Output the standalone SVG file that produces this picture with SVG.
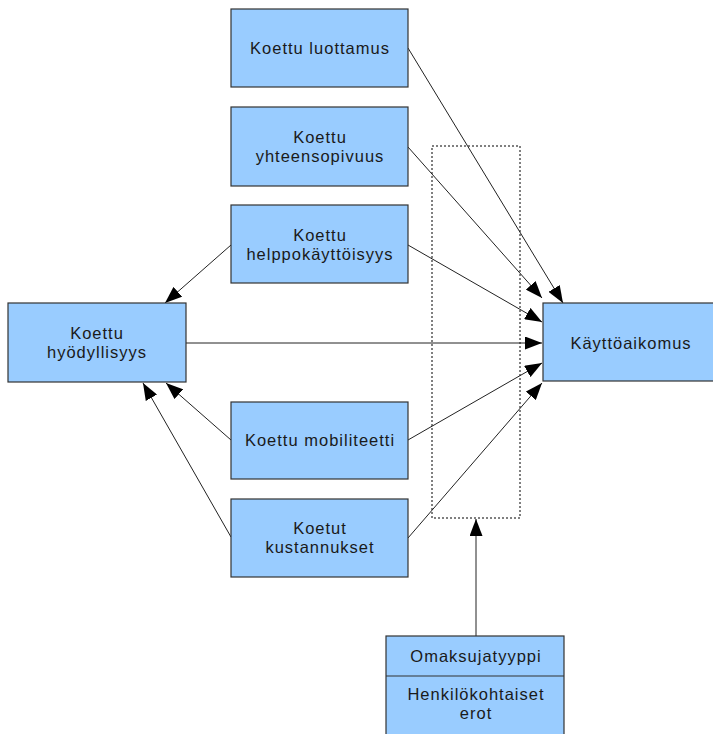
<svg xmlns="http://www.w3.org/2000/svg" width="713" height="734" viewBox="0 0 713 734">
<style>
.box{fill:#99ccff;stroke:#333;stroke-width:1.2}
.t{font-family:"Liberation Sans",Arial,sans-serif;font-size:16.5px;fill:#1a1a1a;text-anchor:middle;letter-spacing:1px}
.c{stroke:#222;stroke-width:1;fill:none;marker-end:url(#ah)}
</style>
<defs>
<marker id="ah" markerUnits="userSpaceOnUse" markerWidth="17" markerHeight="13" refX="17" refY="6.5" orient="auto">
<path d="M0,0 L17,6.5 L0,13 z" fill="#000"/>
</marker>
</defs>
<rect x="432" y="146" width="88" height="372" fill="none" stroke="#000" stroke-width="1" stroke-dasharray="2,2"/>
<g id="connectors">
<line class="c" x1="408" y1="48" x2="563" y2="303"/>
<line class="c" x1="408" y1="147" x2="542" y2="298"/>
<line class="c" x1="408" y1="245" x2="542" y2="322"/>
<line class="c" x1="186" y1="343" x2="542" y2="343"/>
<line class="c" x1="408" y1="440" x2="542" y2="363"/>
<line class="c" x1="408" y1="538" x2="542" y2="383"/>
<line class="c" x1="231" y1="245" x2="165" y2="303"/>
<line class="c" x1="231" y1="440" x2="166" y2="383"/>
<line class="c" x1="231" y1="537" x2="143" y2="383"/>
<line class="c" x1="476" y1="636" x2="476" y2="519"/>
</g>
<g id="luottamus">
<rect class="box" x="231" y="9" width="177" height="78"/>
<text class="t" x="320" y="54">Koettu luottamus</text>
</g>
<g id="yhteensopivuus">
<rect class="box" x="231" y="107" width="177" height="79"/>
<text class="t" x="320" y="143">Koettu</text>
<text class="t" x="320" y="162">yhteensopivuus</text>
</g>
<g id="helppokayttoisyys">
<rect class="box" x="231" y="205" width="177" height="78"/>
<text class="t" x="320" y="241">Koettu</text>
<text class="t" x="320" y="260">helppokäyttöisyys</text>
</g>
<g id="hyodyllisyys">
<rect class="box" x="8" y="303" width="178" height="79"/>
<text class="t" x="97" y="339">Koettu</text>
<text class="t" x="97" y="358">hyödyllisyys</text>
</g>
<g id="mobiliteetti">
<rect class="box" x="231" y="402" width="177" height="77"/>
<text class="t" x="320" y="446">Koettu mobiliteetti</text>
</g>
<g id="kustannukset">
<rect class="box" x="231" y="499" width="177" height="78"/>
<text class="t" x="320" y="534">Koetut</text>
<text class="t" x="320" y="553">kustannukset</text>
</g>
<g id="kayttoaikomus">
<rect class="box" x="543" y="303" width="176" height="78"/>
<text class="t" x="631" y="349">Käyttöaikomus</text>
</g>
<g id="omaksujatyyppi">
<rect class="box" x="386" y="636" width="178" height="110"/>
<line x1="386" y1="676" x2="564" y2="676" stroke="#333" stroke-width="1.2"/>
<text class="t" x="476" y="662">Omaksujatyyppi</text>
<text class="t" x="476" y="700">Henkilökohtaiset</text>
<text class="t" x="476" y="719">erot</text>
</g>
</svg>
